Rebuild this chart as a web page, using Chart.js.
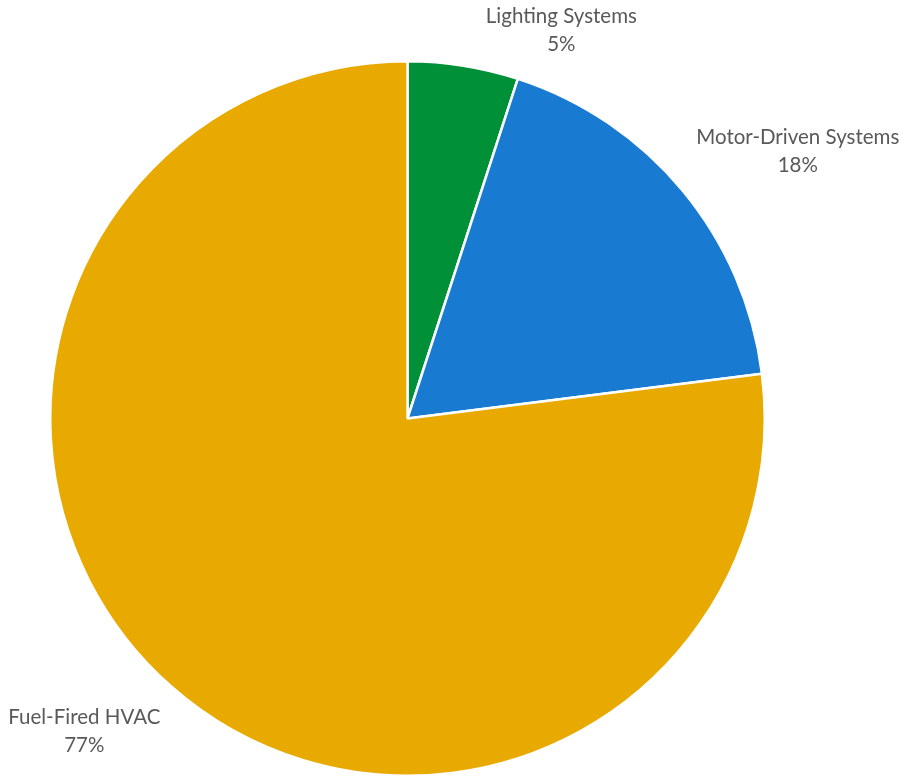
<!DOCTYPE html>
<html>
<head>
<meta charset="utf-8">
<script src="https://cdn.jsdelivr.net/npm/chart.js@4"></script>
<style>
  html, body { margin: 0; padding: 0; background: #fff; }
  #wrap { width: 905px; height: 778px; }
</style>
</head>
<body>
<div id="wrap"><canvas id="grafico"></canvas></div>
<script>
// categorias y porcentajes
const categorias = ["Lighting Systems", "Motor-Driven Systems", "Fuel-Fired HVAC"];
const valores = [5, 18, 77];
const colores = ["#009038", "#187BD1", "#E8AA00"];

// desplazamiento de cada etiqueta respecto al punto medio del arco exterior
const desplazamientos = [[98, -35], [115, -39], [-87, 45]];

const etiquetasPlugin = {
  id: "etiquetas",
  afterDatasetsDraw(chart) {
    const ctx = chart.ctx;
    const meta = chart.getDatasetMeta(0);
    ctx.save();
    ctx.font = "20.5px Lato";
    ctx.fillStyle = "#595959";
    ctx.textAlign = "center";
    ctx.textBaseline = "middle";
    meta.data.forEach((arc, i) => {
      const medio = (arc.startAngle + arc.endAngle) / 2;
      const x = arc.x + Math.cos(medio) * arc.outerRadius + desplazamientos[i][0];
      const y = arc.y + Math.sin(medio) * arc.outerRadius + desplazamientos[i][1];
      ctx.fillText(categorias[i], x, y - 14);
      ctx.fillText(valores[i] + "%", x, y + 14);
    });
    ctx.restore();
  }
};

new Chart(document.getElementById("grafico"), {
  type: "pie",
  data: {
    labels: categorias,
    datasets: [{
      data: valores,
      backgroundColor: colores,
      borderColor: "#ffffff",
      borderWidth: 2.5
    }]
  },
  options: {
    responsive: true,
    maintainAspectRatio: false,
    animation: false,
    layout: { padding: { left: 49, right: 139, top: 60, bottom: 1 } },
    plugins: {
      legend: { display: false },
      tooltip: { enabled: false }
    }
  },
  plugins: [etiquetasPlugin]
});
</script>
</body>
</html>
